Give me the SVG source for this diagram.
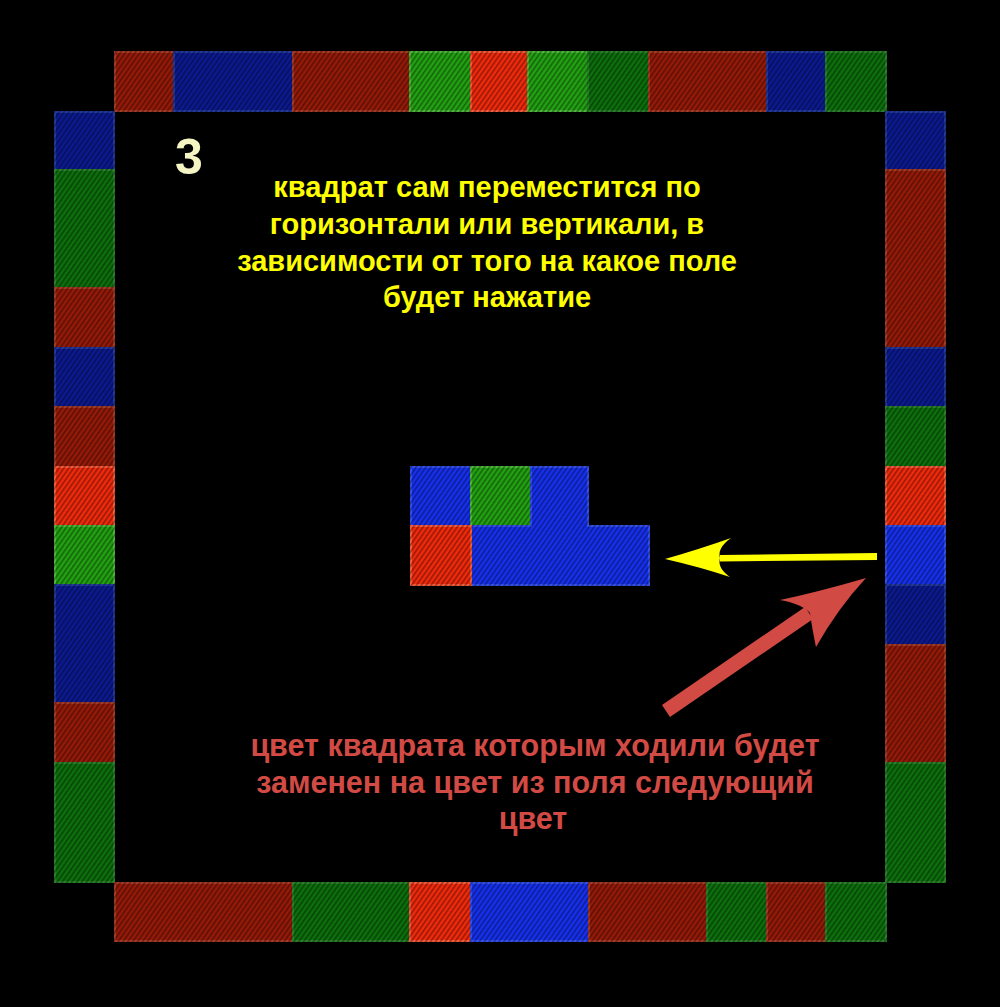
<svg xmlns="http://www.w3.org/2000/svg" width="1000" height="1007" viewBox="0 0 1000 1007">
<defs>
<pattern id="hatch" width="4" height="4" patternUnits="userSpaceOnUse" patternTransform="rotate(35)">
<rect x="0" y="0" width="1.6" height="4" fill="#000" fill-opacity="0.38"/>
</pattern>
<style>
.t{stroke-width:2}
.dr{fill:#961a08;stroke:#a83a26}
.br{fill:#f22a0c;stroke:#f85a3a}
.db{fill:#0c1a92;stroke:#223aa0}
.bb{fill:#1630ee;stroke:#3450f0}
.dg{fill:#0c700c;stroke:#2a822a}
.bg{fill:#22a212;stroke:#4cb83a}
.txt{font-family:"Liberation Sans",Arial,sans-serif;font-weight:bold;text-anchor:middle}
.y{fill:#ffff00;font-size:29px}
.r{fill:#d24a44;font-size:30.5px}
</style>
</defs>
<rect width="1000" height="1007" fill="#000"/>
<g id="border-top">
<rect class="t dr" x="115" y="52" width="59" height="59"/>
<rect class="t db" x="174" y="52" width="119" height="59"/>
<rect class="t dr" x="293" y="52" width="117" height="59"/>
<rect class="t bg" x="410" y="52" width="61" height="59"/>
<rect class="t br" x="471" y="52" width="57" height="59"/>
<rect class="t bg" x="528" y="52" width="60" height="59"/>
<rect class="t dg" x="588" y="52" width="61" height="59"/>
<rect class="t dr" x="649" y="52" width="118" height="59"/>
<rect class="t db" x="767" y="52" width="59" height="59"/>
<rect class="t dg" x="826" y="52" width="60" height="59"/>
</g>
<g id="border-left">
<rect class="t db" x="55" y="112" width="59" height="58"/>
<rect class="t dg" x="55" y="170" width="59" height="118"/>
<rect class="t dr" x="55" y="288" width="59" height="60"/>
<rect class="t db" x="55" y="348" width="59" height="59"/>
<rect class="t dr" x="55" y="407" width="59" height="60"/>
<rect class="t br" x="55" y="467" width="59" height="59"/>
<rect class="t bg" x="55" y="526" width="59" height="59"/>
<rect class="t db" x="55" y="585" width="59" height="118"/>
<rect class="t dr" x="55" y="703" width="59" height="60"/>
<rect class="t dg" x="55" y="763" width="59" height="119"/>
</g>
<g id="border-right">
<rect class="t db" x="886" y="112" width="59" height="58"/>
<rect class="t dr" x="886" y="170" width="59" height="178"/>
<rect class="t db" x="886" y="348" width="59" height="59"/>
<rect class="t dg" x="886" y="407" width="59" height="60"/>
<rect class="t br" x="886" y="467" width="59" height="59"/>
<rect class="t bb" x="886" y="526" width="59" height="59"/>
<rect class="t db" x="886" y="585" width="59" height="60"/>
<rect class="t dr" x="886" y="645" width="59" height="118"/>
<rect class="t dg" x="886" y="763" width="59" height="119"/>
</g>
<g id="border-bottom">
<rect class="t dr" x="115" y="883" width="178" height="58"/>
<rect class="t dg" x="293" y="883" width="117" height="58"/>
<rect class="t br" x="410" y="883" width="61" height="58"/>
<rect class="t bb" x="471" y="883" width="118" height="58"/>
<rect class="t dr" x="589" y="883" width="118" height="58"/>
<rect class="t dg" x="707" y="883" width="60" height="58"/>
<rect class="t dr" x="767" y="883" width="59" height="58"/>
<rect class="t dg" x="826" y="883" width="60" height="58"/>
</g>
<g id="center-piece">
<rect class="t bb" x="411" y="467" width="60" height="59"/>
<rect class="t bg" x="471" y="467" width="60" height="59"/>
<path class="t bb" d="M531,467 H588 V526 H649 V585 H471 V526 H531 Z"/>
<rect class="t br" x="411" y="526" width="60" height="59"/>
</g>
<rect id="texture" width="1000" height="1007" fill="url(#hatch)"/>
<g id="connectors">
<path fill="#ffff00" d="M877,553 L877,560 L720,561.5 L720,555 Z"/>
<path fill="#ffff00" d="M665,559 Q700,549 731,538 Q717,548 720,558 Q717,568 730,577 Q700,567 665,559 Z"/>
<path fill="#d24a44" d="M662,705 L670,717 L813,619 L805,607 Z"/>
<path fill="#d24a44" d="M866,578 Q818,592 780,600 Q802,604 810,613 Q812,628 816,647 Q838,608 866,578 Z"/>
</g>
<g id="labels">
<text x="175" y="174" font-family="Liberation Sans,Arial,sans-serif" font-weight="bold" font-size="50" fill="#f5f5c4">3</text>
<text class="txt y" x="487" y="197">квадрат сам переместится по</text>
<text class="txt y" x="487" y="234">горизонтали или вертикали, в</text>
<text class="txt y" x="487" y="271">зависимости от того на какое поле</text>
<text class="txt y" x="487" y="307">будет нажатие</text>
<text class="txt r" x="535" y="756">цвет квадрата которым ходили будет</text>
<text class="txt r" x="535" y="793">заменен на цвет из поля следующий</text>
<text class="txt r" x="533" y="829">цвет</text>
</g>
</svg>
